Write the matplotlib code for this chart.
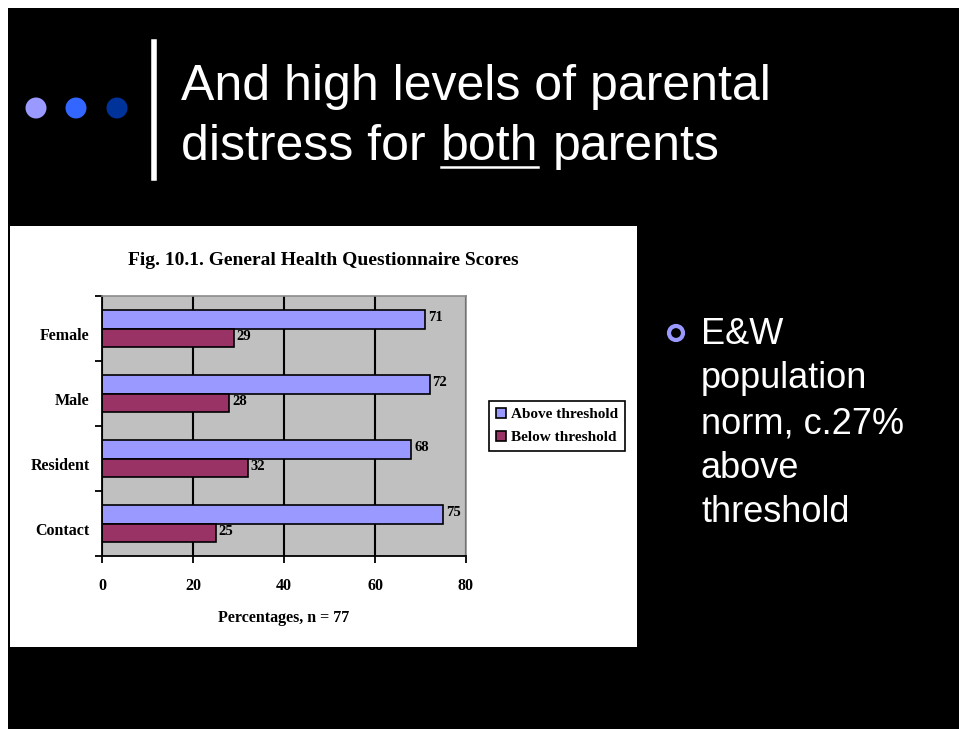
import matplotlib
matplotlib.use("Agg")
import matplotlib.pyplot as plt
from matplotlib.patches import Rectangle, Ellipse
from matplotlib.lines import Line2D

W, H = 959, 729

categories = ["Female", "Male", "Resident", "Contact"]
above = [71, 72, 68, 75]
below = [29, 28, 32, 25]
xticks = [0, 20, 40, 60, 80]
series_names = ["Above threshold", "Below threshold"]
bullet_lines = ["E&W", "population", "norm, c.27%", "above", "threshold"]

BLUE = "#9999FF"
PLUM = "#993366"
SERIF = "Liberation Serif"
SANS = "Liberation Sans"


def fx(x):
    return x / W


def fy(y):
    return 1 - y / H


def box(x0, y0, x1, y1):
    # pixel box (top-left origin) -> figure fraction rect
    return [fx(x0), fy(y1), (x1 - x0) / W, (y1 - y0) / H]


def dot(cx, cy, r, **kw):
    return Ellipse((fx(cx), fy(cy)), 2 * r / W, 2 * r / H, transform=fig.transFigure, **kw)


fig = plt.figure(figsize=(W / 100, H / 100), dpi=100, facecolor="white")

# slide background
fig.patches.append(Rectangle((fx(8), 0), 1, fy(8), transform=fig.transFigure,
                             facecolor="black", edgecolor="none", zorder=0))

# decorative dots and divider
for cx, col in zip([36, 76, 117], ["#9999FF", "#3366FF", "#003399"]):
    fig.patches.append(dot(cx, 108, 10.5, facecolor=col, edgecolor="none", zorder=1))
fig.lines.append(Line2D([fx(154), fx(154)], [fy(42), fy(178)], transform=fig.transFigure,
                        color="white", lw=4, zorder=1))

# slide title
tkw = dict(color="white", fontsize=36, family=SANS, va="baseline", ha="left")
fig.text(fx(181), fy(100), "And high levels of parental", **tkw)
fig.text(fx(181), fy(160), "distress for", **tkw)
fig.text(fx(441), fy(160), "both", **tkw)
fig.text(fx(553), fy(160), "parents", **tkw)
fig.lines.append(Line2D([fx(441), fx(538)], [fy(167), fy(167)], transform=fig.transFigure,
                        color="white", lw=1.8, zorder=1))

# bullet text on the right
fig.patches.append(dot(676, 333, 7, facecolor="none", edgecolor=BLUE, lw=3, zorder=1))
for i, line in enumerate(bullet_lines):
    fig.text(fx(701), fy(344 + i * 44.5), line, color="white", fontsize=26,
             family=SANS, va="baseline", ha="left")

# white chart panel
fig.patches.append(Rectangle((fx(10), fy(647)), (637 - 10) / W, (647 - 226) / H,
                             transform=fig.transFigure, facecolor="white",
                             edgecolor="none", zorder=1))

fig.text(fx(323), fy(260), "Fig. 10.1. General Health Questionnaire Scores",
         ha="center", va="center", fontsize=14, fontweight="bold", family=SERIF, zorder=3)

ax = fig.add_axes(box(102, 296, 466, 556))
ax.set_zorder(2)
ax.set_facecolor("#C0C0C0")

pos = list(range(len(categories)))
bh = 0.29
b1 = ax.barh([p - bh / 2 for p in pos], above, height=bh, color=BLUE,
             edgecolor="black", lw=1.2, label=series_names[0])
b2 = ax.barh([p + bh / 2 for p in pos], below, height=bh, color=PLUM,
             edgecolor="black", lw=1.2, label=series_names[1])

for p, a, b in zip(pos, above, below):
    ax.text(a + 0.6, p - bh / 2 - 0.03, str(a), va="center", ha="left", fontsize=10.5,
            fontweight="bold", family=SERIF)
    ax.text(b + 0.6, p + bh / 2 - 0.02, str(b), va="center", ha="left", fontsize=10.5,
            fontweight="bold", family=SERIF)

ax.set_xlim(0, 80)
ax.set_ylim(len(categories) - 0.5, -0.5)
ax.set_xticks(xticks)
ax.set_xticklabels([str(t) for t in xticks], fontsize=11.5, fontweight="bold", family=SERIF)
ax.tick_params(axis="x", length=5, width=1.3, direction="out", pad=11)

# tick marks sit between categories, names sit a bit below the bar pair
ax.set_yticks([p - 0.5 for p in pos] + [len(categories) - 0.5])
ax.set_yticklabels([])
ax.tick_params(axis="y", which="major", length=5, width=1.3, direction="out")
ax.set_yticks([p + 0.08 for p in pos], minor=True)
ax.set_yticklabels(categories, minor=True, fontsize=11.5, fontweight="bold", family=SERIF)
ax.tick_params(axis="y", which="minor", length=0, pad=9)

ax.set_xlabel("Percentages, n = 77", fontsize=11.5, fontweight="bold", family=SERIF, labelpad=11)

ax.set_axisbelow(True)
ax.grid(axis="x", color="black", lw=1.5)
for s in ["left", "bottom"]:
    ax.spines[s].set_color("black")
    ax.spines[s].set_linewidth(1.3)
for s in ["top", "right"]:
    ax.spines[s].set_color("#8C8C8C")
    ax.spines[s].set_linewidth(1.2)

leg = fig.legend(handles=[b1, b2], loc="center left",
                 bbox_to_anchor=(fx(489), fy(426)), frameon=True, fancybox=False,
                 edgecolor="black", framealpha=1, handlelength=0.65, handleheight=0.65,
                 handletextpad=0.35, borderpad=0.45, labelspacing=0.6, borderaxespad=0,
                 prop={"family": SERIF, "weight": "bold", "size": 11})
leg.get_frame().set_linewidth(1.2)
leg.set_zorder(4)

fig.savefig("out.png", dpi=100, facecolor=fig.get_facecolor())
